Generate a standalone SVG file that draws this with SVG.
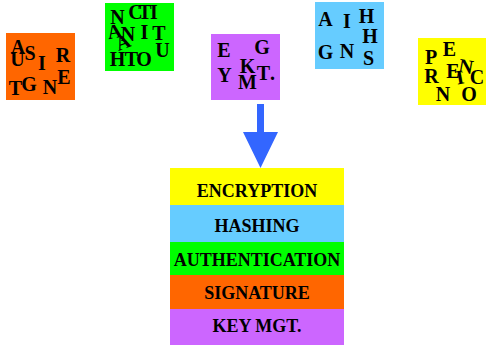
<svg xmlns="http://www.w3.org/2000/svg" width="486" height="345" viewBox="0 0 486 345">
<style>
.l{font-family:"Liberation Serif","Times New Roman",serif;font-weight:bold;font-size:20px;fill:#000;text-anchor:middle}
.s{font-family:"Liberation Serif","Times New Roman",serif;font-weight:bold;font-size:18px;fill:#000;text-anchor:middle}
</style>
<rect width="486" height="345" fill="#fff"/>
<g id="signature-box">
<rect x="6" y="33" width="69" height="67" fill="#FF6600"/>
<text class="l" x="18" y="54">A</text>
<text class="l" x="30" y="60">S</text>
<text class="l" x="17.5" y="66">U</text>
<text class="l" x="42" y="70">I</text>
<text class="l" x="63" y="62">R</text>
<text class="l" x="15.5" y="95">T</text>
<text class="l" x="29" y="91">G</text>
<text class="l" x="50" y="94">N</text>
<text class="l" x="64" y="84">E</text>
</g>
<g id="authentication-box">
<rect x="105" y="3" width="69" height="68" fill="#00FF00"/>
<text class="l" x="117.5" y="24">N</text>
<text class="l" x="135.5" y="19">C</text>
<text class="l" x="145" y="19">T</text>
<text class="l" x="154" y="19">I</text>
<text class="l" x="114.5" y="38" transform="rotate(-10 114.5 32)">A</text>
<text class="l" x="128" y="41">N</text>
<text class="l" x="144.5" y="39">I</text>
<text class="l" x="159" y="40">T</text>
<text class="l" x="123" y="49" transform="rotate(-20 123 42)">A</text>
<text class="l" x="162.5" y="57">U</text>
<text class="l" x="117.5" y="66">H</text>
<text class="l" x="131.5" y="66">T</text>
<text class="l" x="144" y="66">O</text>
</g>
<g id="keymgt-box">
<rect x="211" y="34" width="69" height="66" fill="#CC66FF"/>
<text class="l" x="224" y="57">E</text>
<text class="l" x="262" y="54">G</text>
<text class="l" x="224.5" y="82">Y</text>
<text class="l" x="247.5" y="73">K</text>
<text class="l" x="263.5" y="80">T</text>
<text class="l" x="272.5" y="80">.</text>
<text class="l" x="247.5" y="89">M</text>
</g>
<g id="hashing-box">
<rect x="315" y="2" width="69" height="67" fill="#66CCFF"/>
<text class="l" x="325.5" y="26">A</text>
<text class="l" x="347" y="28">I</text>
<text class="l" x="366.5" y="23">H</text>
<text class="l" x="370" y="43">H</text>
<text class="l" x="325.5" y="59">G</text>
<text class="l" x="347" y="58">N</text>
<text class="l" x="368.5" y="65">S</text>
</g>
<g id="encryption-box">
<rect x="418" y="38" width="68" height="67" fill="#FFFF00"/>
<text class="l" x="431" y="64">P</text>
<text class="l" x="449.5" y="56">E</text>
<text class="l" x="466" y="73" transform="rotate(10 466 67)">N</text>
<text class="l" x="431.5" y="83">R</text>
<text class="l" x="453" y="78">E</text>
<text class="l" x="460" y="84" transform="rotate(-10 460 78)">I</text>
<text class="l" x="477" y="84">C</text>
<text class="l" x="443" y="101">N</text>
<text class="l" x="469" y="101">O</text>
</g>
<g id="connectors">
<path d="M257 104 H264 V132 H278 L260.5 168 L243 132 H257 Z" fill="#3366FF"/>
</g>
<g id="stack">
<g id="row-encryption"><rect x="170" y="168" width="174" height="37" fill="#FFFF00"/><text class="s" x="257" y="197">ENCRYPTION</text></g>
<g id="row-hashing"><rect x="170" y="205" width="174" height="37" fill="#66CCFF"/><text class="s" x="257" y="232">HASHING</text></g>
<g id="row-authentication"><rect x="170" y="242" width="174" height="33" fill="#00FF00"/><text class="s" x="257" y="266">AUTHENTICATION</text></g>
<g id="row-signature"><rect x="170" y="275" width="174" height="34" fill="#FF6600"/><text class="s" x="257" y="299">SIGNATURE</text></g>
<g id="row-keymgt"><rect x="170" y="309" width="174" height="36" fill="#CC66FF"/><text class="s" x="257" y="332">KEY MGT.</text></g>
</g>
</svg>
